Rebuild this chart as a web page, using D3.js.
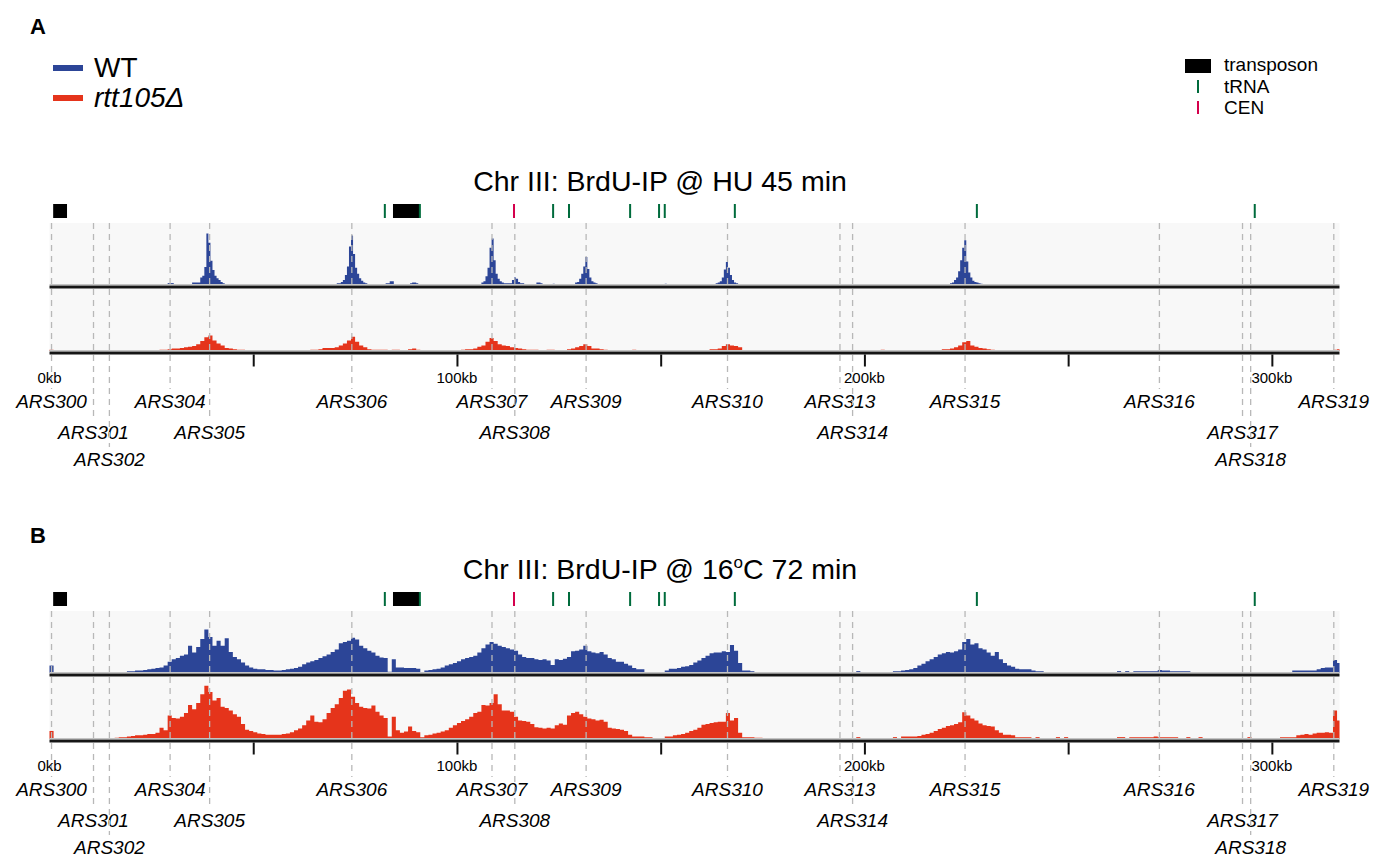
<!DOCTYPE html>
<html>
<head>
<meta charset="utf-8">
<script src="https://cdn.jsdelivr.net/npm/d3@7"></script>
<style>
  body { margin: 0; background: #fff; }
  text { font-family: Arial, "Liberation Sans", Helvetica, sans-serif; }
</style>
</head>
<body>
<div id="chart"></div>
<script>
// Chr III BrdU-IP profiles, WT vs rtt105 (values = signal, 100 = full track)

var width = 1373, height = 857;
var chrLen = 316.6; // kb

var arsNames = ['ARS300','ARS301','ARS302','ARS304','ARS305','ARS306','ARS307','ARS308','ARS309',
                'ARS310','ARS313','ARS314','ARS315','ARS316','ARS317','ARS318','ARS319'];
var arsKb = [0.5, 10.8, 14.7, 29.6, 39.3, 74.2, 108.6, 114.2, 131.7, 166.4, 194.0, 197.1, 224.7, 272.4, 292.8, 294.8, 315.2];
var arsRow = [0, 1, 2, 0, 1, 0, 0, 1, 0, 0, 0, 1, 0, 0, 1, 2, 0];

var transposons = [[0.9, 4.3], [84.3, 90.7]];
var tRNAs = [82.3, 90.9, 123.6, 127.5, 142.5, 149.6, 151.0, 168.2, 227.6, 295.8];
var cens = [114.0];

var tickKb = [50, 100, 150, 200, 250, 300];
var tickLabelKb = [0, 100, 200, 300];

// segments: [start kb, [bin values]]
var wtHUbin = 0.5;
var wtHU = [
  [29, [3,3,3]],
  [35, [4,4,4,4,12,15,29,83,68,39,24,15,11,8,5,3]],
  [70.5, [3,3,5,8,16,30,62,80,50,28,18,11,7,4,3]],
  [82.5, [3,3,6,6]],
  [88.5, [3,4,4,3]],
  [106, [4,6,14,28,60,75,40,18,10,6,4,3,3,3,3,8,12,10,5,3,3]],
  [119.5, [4,4,3]],
  [123.5, [2]],
  [129, [4,5,10,18,30,45,26,12,6,4,3]],
  [151, [2]],
  [163.5, [3,4,6,12,25,37,28,16,8,4,3]],
  [221, [3,4,8,12,22,40,60,72,38,20,12,7,5,4,3,2]]
];

var rttHUbin = 1;
var rttHU = [
  [0, [2]],
  [27, [2,2,3,4,4,5,6,7,8,11,16,22,25,17,12,9,5,4,3,2,2]],
  [64, [2,2,3,5,5,5,6,9,12,17,23,15,9,6,3,2,2,2,2]],
  [84, [2,2]],
  [88, [3,4,2]],
  [101, [2,3,3,4,7,9,15,21,16,11,9,8,6,5,4,3,2,2,2]],
  [122, [2,2]],
  [127, [3,4,6,8,11,8,4,4,3,2]],
  [143, [2]],
  [162, [3,3,4,8,11,9,8,6]],
  [204, [2]],
  [219, [3,3,4,6,9,14,16,9,7,5,4,3,2]],
  [315, [2,3]]
];

var wt16bin = 1;
var wt16 = [
  [0, [12]],
  [19, [3,3,4,4,5,6,7,8,9,12, 18,22,24,28,30,44,33,42,55,70, 58,44,52,44,56,34,26,22,17,12,
        9,7,6,6,5,5,4,4,5,6, 7,8,10,14,17,19,21,24,27,30, 34,38,48,50,52,57,54,44,40,36,
        33,28,25,24,2,22,9,9,8,8, 8,7]],
  [92, [4,5,6,7,9,12,14,16,19,22, 24,26,28,33,40,46,50,47,44,42, 40,38,36,30,26,24,24,22,21,22,
        20,13,22,21,23,26,35,36,38,44, 35,33,32,34,30,24,22,18,18,15, 12,8,6,6]],
  [151, [4,7,7,8,10,11,13,17,20,24, 28,32,33,33,35,34,45,36,16,4, 4,3]],
  [198, [3]],
  [207, [3,3,4,5,6,8,12,15,19,22, 26,30,32,34,33,35,38,50,55,46, 48,40,38,33,28,34,22,16,12,10,
         7,6,6,6,4,3,3]],
  [262, [3]],
  [264, [3]],
  [266, [3,3,3,3,3,3,5,4,4,3,3,3,3,3]],
  [305, [4,4,4,4,4,4,6,8,9,9,21,16]]
];

var rtt16bin = 1;
var rtt16 = [
  [0, [13]],
  [16, [2,3,3,4,5,6,6,7,8,8, 10,18,14,38,34,33,36,42,55,48, 58,72,86,76,62,66,52,50,46,40,
        36,24,15,13,11,9,8,7,7,7, 7,8,9,11,14,17,22,30,38,28, 27,32,42,50,56,66,78,80,68,58,
        52,50,49,54,44,38,34,4,36,14, 10,12,20,13,11,3,6,7,9,10, 12,14,18,22,26,29,32,36,42,44,
        55,54,58,72,56,46,46,44,36,30, 29,28,24,19,18,17,18,17,22,25, 23,38,42,44,40,36,33,32,30,31,
        28,18,17,16,15,13,7,4,4,4, 3,3]],
  [151, [4,4,6,7,8,10,13,15,18,23, 24,26,27,28,28,42,30,34,10,3, 3,3,2,2]],
  [198, [3]],
  [207, [3]],
  [209, [4,4,4,4,5,7,8,10,13,16, 18,21,22,24,27,43,38,33,30,25, 22,21,20,14,10,7,7,6,3,3, 3,3]],
  [242, [3]],
  [247, [3]],
  [249, [3]],
  [262, [3,3]],
  [265, [3,3,3,3,3,3,4,3,3,3,3,3]],
  [279, [3]],
  [282, [3]],
  [294, [3]],
  [302, [3,3,3,3,6,7,8,7,9,10,10,11,10,46,30]]
];

var blue = '#2c4597', red = '#e5341b';
var green = '#006b3c', crimson = '#d4004c';

var svg = d3.select('#chart').append('svg')
  .attr('width', width)
  .attr('height', height);

var x = d3.scaleLinear().domain([0, chrLen]).range([49.5, 1339.5]);

// panel letters
svg.append('text').attr('x', 30).attr('y', 34).attr('font-size', 22).attr('font-weight', 'bold').text('A');
svg.append('text').attr('x', 30).attr('y', 543).attr('font-size', 22).attr('font-weight', 'bold').text('B');

// strain legend
var strains = [['WT', blue, 'normal'], ['rtt105\u0394', red, 'italic']];
strains.forEach(function(s, i) {
  svg.append('line').attr('x1', 53).attr('x2', 83).attr('y1', 68 + i * 30).attr('y2', 68 + i * 30)
    .attr('stroke', s[1]).attr('stroke-width', 6);
  svg.append('text').attr('x', 94).attr('y', 77 + i * 30).attr('font-size', 28)
    .attr('font-style', s[2]).text(s[0]);
});

// feature legend
svg.append('rect').attr('x', 1185).attr('y', 59).attr('width', 26).attr('height', 14).attr('fill', '#000');
svg.append('rect').attr('x', 1197).attr('y', 80).attr('width', 2).attr('height', 13).attr('fill', green);
svg.append('rect').attr('x', 1197).attr('y', 101).attr('width', 2).attr('height', 13).attr('fill', crimson);
['transposon', 'tRNA', 'CEN'].forEach(function(t, i) {
  svg.append('text').attr('x', 1224).attr('y', 71 + i * 21.5).attr('font-size', 19).text(t);
});

function drawPanel(offsetY, titleParts, wtSeg, wtBin, rttSeg, rttBin) {
  var g = svg.append('g').attr('transform', 'translate(0,' + offsetY + ')');

  var title = g.append('text').attr('x', 660).attr('y', 191).attr('font-size', 28.5)
    .attr('text-anchor', 'middle');
  titleParts.forEach(function(p) {
    var ts = title.append('tspan').text(p[0]);
    if (p[1]) ts.attr('font-size', 17).attr('dy', -11);
    else if (p[2]) ts.attr('dy', 11);
  });

  // feature track
  g.selectAll('.tp').data(transposons).enter().append('rect')
    .attr('x', function(d) { return x(d[0]); })
    .attr('width', function(d) { return x(d[1]) - x(d[0]); })
    .attr('y', 204).attr('height', 14).attr('fill', '#000');
  g.selectAll('.trna').data(tRNAs).enter().append('rect')
    .attr('x', function(d) { return x(d) - 1; }).attr('width', 2)
    .attr('y', 204).attr('height', 14).attr('fill', green);
  g.selectAll('.cen').data(cens).enter().append('rect')
    .attr('x', function(d) { return x(d) - 1; }).attr('width', 2)
    .attr('y', 204).attr('height', 14).attr('fill', crimson);

  var tracks = [[223, wtSeg, wtBin, blue], [289, rttSeg, rttBin, red]];
  var h = 62;
  tracks.forEach(function(t) {
    var top = t[0];
    var y = d3.scaleLinear().domain([0, 100]).range([top + h, top]);
    g.append('rect').attr('x', x(0)).attr('y', top).attr('width', x(chrLen) - x(0)).attr('height', h)
      .attr('fill', '#f8f8f8');
    var area = d3.area()
      .x(function(d) { return x(d[0]); })
      .y0(y(0))
      .y1(function(d) { return y(d[1]); })
      .curve(d3.curveStepAfter);
    t[1].forEach(function(seg) {
      var pts = seg[1].map(function(v, i) { return [seg[0] + i * t[2], v]; });
      var end = Math.min(seg[0] + seg[1].length * t[2], chrLen);
      pts.push([end, seg[1][seg[1].length - 1]]);
      g.append('path').datum(pts).attr('d', area).attr('fill', t[3]);
    });
    g.append('line').attr('x1', x(0)).attr('x2', x(chrLen)).attr('y1', top + h - 0.5).attr('y2', top + h - 0.5)
      .attr('stroke', '#c4c4c4').attr('stroke-width', 1);
    g.append('line').attr('x1', x(0)).attr('x2', x(chrLen)).attr('y1', top + h + 2).attr('y2', top + h + 2)
      .attr('stroke', '#161616').attr('stroke-width', 3);
  });

  // ARS dashed lines and labels
  var rowY = [408, 439, 466];
  arsNames.forEach(function(n, i) {
    g.append('line').attr('x1', x(arsKb[i])).attr('x2', x(arsKb[i]))
      .attr('y1', 223).attr('y2', rowY[arsRow[i]] - 19)
      .attr('stroke', '#b8b8b8').attr('stroke-width', 1.3).attr('stroke-dasharray', '6,5');
    g.append('text').attr('x', x(arsKb[i])).attr('y', rowY[arsRow[i]])
      .attr('text-anchor', 'middle').attr('font-size', 19).attr('font-style', 'italic').text(n);
  });

  // axis ticks
  var axis = d3.axisBottom(x).tickValues(tickKb).tickSize(12).tickFormat('');
  var ax = g.append('g').attr('transform', 'translate(0,354.5)').call(axis);
  ax.select('.domain').remove();
  ax.selectAll('.tick line').attr('stroke', '#111').attr('stroke-width', 2);

  g.selectAll('.tl').data(tickLabelKb).enter().append('text')
    .attr('x', function(d) { return x(d); }).attr('y', 383)
    .attr('text-anchor', 'middle').attr('font-size', 15)
    .text(function(d) { return d + 'kb'; });
}

drawPanel(0, [['Chr III: BrdU-IP @ HU 45 min']], wtHU, wtHUbin, rttHU, rttHUbin);
drawPanel(388, [['Chr III: BrdU-IP @ 16'], ['o', true], ['C 72 min', false, true]], wt16, wt16bin, rtt16, rtt16bin);
</script>
</body>
</html>
